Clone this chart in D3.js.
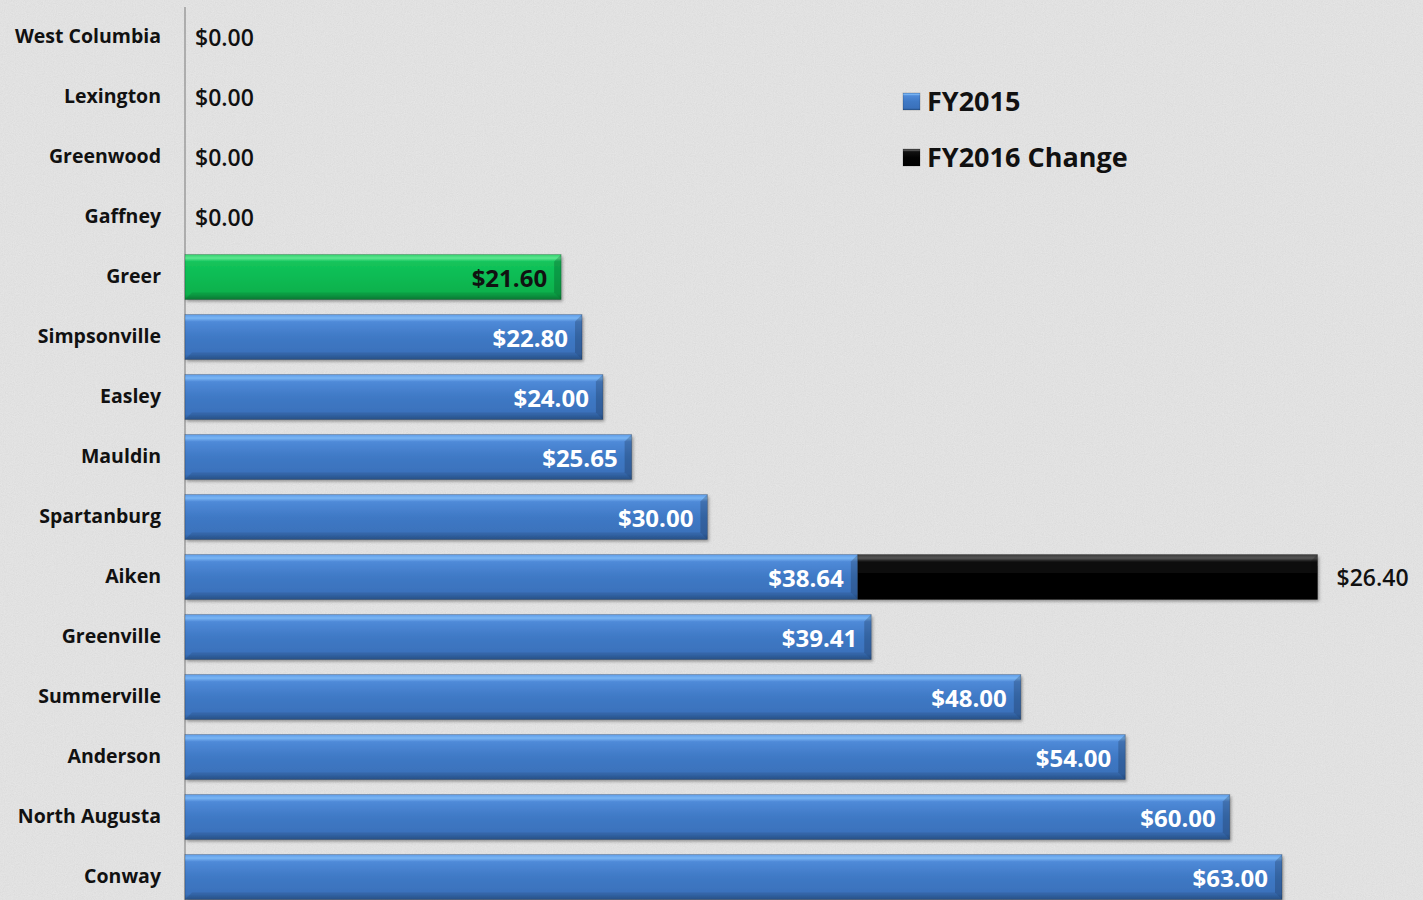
<!DOCTYPE html>
<html><head><meta charset="utf-8">
<script src="https://cdn.jsdelivr.net/npm/d3@7"></script>
<style>html,body{margin:0;padding:0;background:#e4e4e4;}svg{display:block;}</style>
</head><body>
<svg id="chart" width="1423" height="900"></svg>
<script>
const cities = ["West Columbia","Lexington","Greenwood","Gaffney","Greer","Simpsonville","Easley","Mauldin","Spartanburg","Aiken","Greenville","Summerville","Anderson","North Augusta","Conway"];
const fy2015 = [0,0,0,0,21.60,22.80,24.00,25.65,30.00,38.64,39.41,48.00,54.00,60.00,63.00];
const fy2016Change = [0,0,0,0,0,0,0,0,0,26.40,0,0,0,0,0];
const highlightCity = "Greer";
const seriesNames = ["FY2015","FY2016 Change"];

const W = 1423, H = 900;
const svg = d3.select("#chart");
const defs = svg.append("defs");

// background texture
const tf = defs.append("filter").attr("id","tex").attr("x",0).attr("y",0).attr("width","100%").attr("height","100%");
tf.append("feTurbulence").attr("type","fractalNoise").attr("baseFrequency",0.9).attr("numOctaves",2).attr("seed",3).attr("result","n");
tf.append("feColorMatrix").attr("in","n").attr("type","matrix")
  .attr("values","0 0 0 0 0.5  0 0 0 0 0.5  0 0 0 0 0.5  0.35 0.35 0.35 0 -0.25");
svg.append("rect").attr("width",W).attr("height",H).attr("fill","#e7e7e7");
svg.append("rect").attr("width",W).attr("height",H).attr("filter","url(#tex)").attr("opacity",0.5);

function grad(id, stops){
  const g = defs.append("linearGradient").attr("id",id).attr("x1",0).attr("y1",0).attr("x2",0).attr("y2",1);
  stops.forEach(s=>g.append("stop").attr("offset",s[0]).attr("stop-color",s[1]));
}
grad("gBlue",[[0,"#5d9ae6"],[0.08,"#7ab6f4"],[0.16,"#4f8ad8"],[0.5,"#3f79c5"],[0.88,"#3a71bb"],[1,"#2b5995"]]);
grad("gGreen",[[0,"#2fd06c"],[0.08,"#5ee790"],[0.16,"#14c45b"],[0.5,"#0bbb53"],[0.88,"#09b04c"],[1,"#07863a"]]);
grad("gBlack",[[0,"#3a3a3a"],[0.08,"#555"],[0.16,"#111"],[0.5,"#030303"],[1,"#000"]]);

const sh = defs.append("filter").attr("id","shadow").attr("x","-5%").attr("y","-20%").attr("width","110%").attr("height","160%");
sh.append("feDropShadow").attr("dx",1.5).attr("dy",2).attr("stdDeviation",1.5).attr("flood-color","#000").attr("flood-opacity",0.35);

const x = d3.scaleLinear().domain([0,63]).range([185,1282]);
const y = d3.scaleBand().domain(cities).range([7,907]).paddingInner(0.25).paddingOuter(0.125);
const bh = y.bandwidth();

const font = "'Open Sans', 'Noto Sans', sans-serif";

// axis
const yAxis = d3.axisLeft(y).tickSize(0).tickPadding(24);
const ag = svg.append("g").attr("transform",`translate(${x(0)},0)`).call(yAxis);
ag.select(".domain").attr("stroke","#8a8a8a").attr("stroke-width",1.2).attr("d",`M0,7V${H}`);
ag.selectAll(".tick text").attr("font-family",font).attr("font-size",19.5).attr("font-weight",700).attr("fill","#111")
  .attr("dy","0.3em");

function drawBar(g, x0, x1, yc, fillId){
  const top = yc - bh/2, w = x1 - x0;
  const b = 7;
  g.append("rect").attr("x",x0).attr("y",top).attr("width",w).attr("height",bh)
    .attr("fill",`url(#${fillId})`).attr("filter","url(#shadow)");
  // right bevel
  g.append("path").attr("d",`M${x1},${top}L${x1-b},${top+b}L${x1-b},${top+bh-b}L${x1},${top+bh}Z`)
    .attr("fill","#000").attr("opacity",0.18);
  g.append("path").attr("d",`M${x0},${top+bh}L${x0+b},${top+bh-b}L${x1-b},${top+bh-b}L${x1},${top+bh}Z`)
    .attr("fill","#000").attr("opacity",0.1);
  g.append("rect").attr("x",x0).attr("y",top).attr("width",w).attr("height",bh)
    .attr("fill","none").attr("stroke","#000").attr("stroke-opacity",0.25).attr("stroke-width",0.8);
}

const bars = svg.append("g");
cities.forEach((c,i)=>{
  const yc = y(c) + bh/2;
  const v = fy2015[i], ch = fy2016Change[i];
  if (v > 0){
    drawBar(bars, x(0), x(v), yc, c===highlightCity ? "gGreen" : "gBlue");
  }
  if (ch > 0){
    drawBar(bars, x(v), x(v+ch), yc, "gBlack");
  }
});

const labels = svg.append("g").attr("font-family",font);
const vSize = 24;
cities.forEach((c,i)=>{
  const yc = y(c) + bh/2;
  const v = fy2015[i], ch = fy2016Change[i];
  const t = "$" + d3.format(".2f")(v);
  if (v > 0){
    labels.append("text").attr("x",x(v)-14).attr("y",yc).attr("dy","0.4em").attr("text-anchor","end")
      .attr("font-size",vSize).attr("font-weight",700).attr("fill", c===highlightCity ? "#111" : "#fff").text(t);
  } else {
    labels.append("text").attr("x",x(0)+10).attr("y",yc).attr("dy","0.4em").attr("text-anchor","start")
      .attr("font-size",vSize-1).attr("font-weight",600).attr("fill","#111").text(t);
  }
  if (ch > 0){
    labels.append("text").attr("x",x(v+ch)+19).attr("y",yc).attr("dy","0.4em").attr("text-anchor","start")
      .attr("font-size",vSize-1).attr("font-weight",600).attr("fill","#111").text("$" + d3.format(".2f")(ch));
  }
});

// legend
const lg = svg.append("g").attr("transform","translate(903,101)");
const lgFills = ["gBlue","gBlack"];
seriesNames.forEach((n,i)=>{
  const gy = i*56;
  lg.append("rect").attr("x",0).attr("y",gy-8).attr("width",17).attr("height",17).attr("fill",`url(#${lgFills[i]})`)
    .attr("stroke","#000").attr("stroke-opacity",0.3).attr("stroke-width",0.6);
  lg.append("text").attr("x",24).attr("y",gy).attr("dy","0.38em").attr("font-family",font)
    .attr("font-size",27).attr("font-weight",700).attr("fill","#111").text(n);
});
</script>
</body></html>
